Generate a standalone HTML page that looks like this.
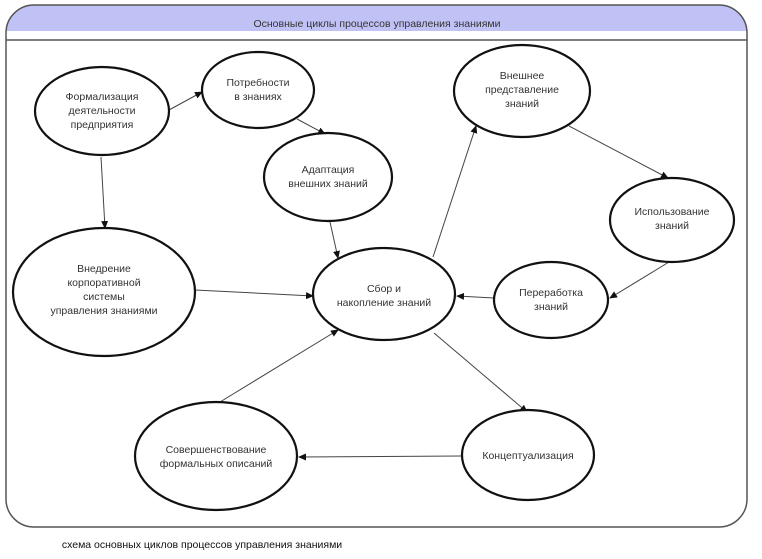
<!DOCTYPE html>
<html><head><meta charset="utf-8"><style>
html,body{margin:0;padding:0;background:#fff;width:762px;height:559px;overflow:hidden}
svg text{font-family:"Liberation Sans","DejaVu Sans",sans-serif;fill:#333;font-size:10.5px;text-anchor:middle}
</style></head><body>
<svg width="762" height="559" viewBox="0 0 762 559" xmlns="http://www.w3.org/2000/svg">
<defs>
<marker id="a" markerWidth="8" markerHeight="8" refX="7" refY="4" orient="auto" markerUnits="userSpaceOnUse">
<path d="M0,0.5 L8,4 L0,7.5 z" fill="#111"/></marker>
<clipPath id="c"><rect x="6" y="5" width="741" height="522" rx="28"/></clipPath>
</defs>
<g clip-path="url(#c)">
<rect x="6" y="5" width="741" height="26" fill="#c0c2f6"/>
</g>
<rect x="6" y="5" width="741" height="522" rx="28" fill="none" stroke="#555" stroke-width="1.5"/>
<line x1="6" y1="40" x2="747" y2="40" stroke="#555" stroke-width="1.5"/>
<text x="377" y="27" style="font-size:10.5px">Основные циклы процессов управления знаниями</text>

<g stroke="#444" stroke-width="1" marker-end="url(#a)">
<line x1="169" y1="110" x2="202" y2="92"/>
<line x1="297" y1="119" x2="325" y2="134"/>
<line x1="101" y1="157" x2="105" y2="228"/>
<line x1="330" y1="222" x2="338" y2="258"/>
<line x1="195" y1="290" x2="313" y2="296"/>
<line x1="433" y1="257" x2="476" y2="126"/>
<line x1="569" y1="126" x2="668" y2="178"/>
<line x1="669" y1="262" x2="610" y2="298"/>
<line x1="494" y1="298" x2="457" y2="296"/>
<line x1="434" y1="333" x2="527" y2="412"/>
<line x1="462" y1="456" x2="299" y2="457"/>
<line x1="220" y1="402" x2="338" y2="330"/>
</g>

<g fill="#fff" stroke="#111" stroke-width="2.2">
<ellipse cx="102" cy="111" rx="67" ry="44"/>
<ellipse cx="258" cy="90" rx="56" ry="38"/>
<ellipse cx="328" cy="177" rx="64" ry="44"/>
<ellipse cx="104" cy="292" rx="91" ry="64"/>
<ellipse cx="384" cy="294" rx="71" ry="46"/>
<ellipse cx="522" cy="91" rx="68" ry="46"/>
<ellipse cx="672" cy="220" rx="62" ry="42"/>
<ellipse cx="551" cy="300" rx="57" ry="38"/>
<ellipse cx="528" cy="455" rx="66" ry="45"/>
<ellipse cx="216" cy="456" rx="81" ry="54"/>
</g>

<text x="102" y="100">Формализация</text>
<text x="102" y="114">деятельности</text>
<text x="102" y="128">предприятия</text>
<text x="258" y="86">Потребности</text>
<text x="258" y="100">в знаниях</text>
<text x="328" y="173">Адаптация</text>
<text x="328" y="187">внешних знаний</text>
<text x="104" y="272">Внедрение</text>
<text x="104" y="286">корпоративной</text>
<text x="104" y="300">системы</text>
<text x="104" y="314">управления знаниями</text>
<text x="384" y="292">Сбор и</text>
<text x="384" y="306">накопление знаний</text>
<text x="522" y="79">Внешнее</text>
<text x="522" y="93">представление</text>
<text x="522" y="107">знаний</text>
<text x="672" y="215">Использование</text>
<text x="672" y="229">знаний</text>
<text x="551" y="296">Переработка</text>
<text x="551" y="310">знаний</text>
<text x="528" y="459">Концептуализация</text>
<text x="216" y="453">Совершенствование</text>
<text x="216" y="467">формальных описаний</text>

<text x="202" y="548" style="font-size:10.5px;fill:#111">схема основных циклов процессов управления знаниями</text>
</svg>
</body></html>
